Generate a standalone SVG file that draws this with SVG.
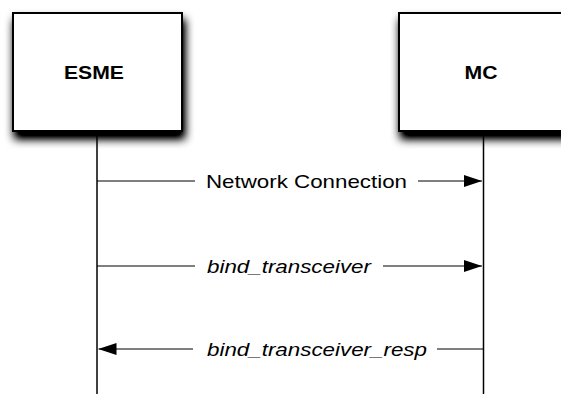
<svg xmlns="http://www.w3.org/2000/svg" width="561" height="394" viewBox="0 0 561 394">
<style>
.box{fill:#fff;stroke:#000;stroke-width:2}
.life{stroke:#000;stroke-width:1.5;fill:none}
.msg{stroke:#000;stroke-width:1.2;fill:none}
.title{font-family:"Liberation Sans",Arial,sans-serif;font-weight:bold;font-size:19px}
.lbl{font-family:"Liberation Sans",Arial,sans-serif;font-size:19px}
.it{font-style:italic}
</style>
<defs>
<filter id="sh" x="-20%" y="-20%" width="150%" height="160%">
<feGaussianBlur in="SourceAlpha" stdDeviation="5"/>
<feOffset dx="1.5" dy="7" result="b"/>
<feComponentTransfer in="b" result="s"><feFuncA type="linear" slope="1.3"/></feComponentTransfer>
<feMerge><feMergeNode in="s"/><feMergeNode in="SourceGraphic"/></feMerge>
</filter>
<marker id="ah" viewBox="0 0 18 12" refX="18" refY="6" markerWidth="18" markerHeight="12" markerUnits="userSpaceOnUse" orient="auto">
<path d="M0,0 L18,6 L0,12 Z" fill="#000"/>
</marker>
</defs>
<g id="esme">
<rect class="box" x="13" y="13" width="169" height="118" filter="url(#sh)"/>
<text class="title" x="64" y="79" textLength="60" lengthAdjust="spacingAndGlyphs">ESME</text>
</g>
<g id="mc">
<rect class="box" x="399" y="13" width="169" height="118" filter="url(#sh)"/>
<text class="title" x="464.5" y="79" textLength="33" lengthAdjust="spacingAndGlyphs">MC</text>
</g>
<g id="connectors">
<line class="life" x1="97" y1="131" x2="97" y2="394"/>
<line class="life" x1="483.5" y1="131" x2="483.5" y2="394"/>
<line class="msg" x1="97" y1="181" x2="195" y2="181"/>
<line class="msg" x1="418" y1="181" x2="482" y2="181" marker-end="url(#ah)"/>
<text class="lbl" x="206" y="188" textLength="201" lengthAdjust="spacingAndGlyphs">Network Connection</text>
<line class="msg" x1="97" y1="266" x2="195" y2="266"/>
<line class="msg" x1="383" y1="266" x2="482" y2="266" marker-end="url(#ah)"/>
<text class="lbl it" x="207" y="273" textLength="164" lengthAdjust="spacingAndGlyphs">bind_transceiver</text>
<line class="msg" x1="193" y1="349" x2="98.5" y2="349" marker-end="url(#ah)"/>
<line class="msg" x1="437" y1="349" x2="483.5" y2="349"/>
<text class="lbl it" x="207" y="356" textLength="220" lengthAdjust="spacingAndGlyphs">bind_transceiver_resp</text>
</g>
</svg>
